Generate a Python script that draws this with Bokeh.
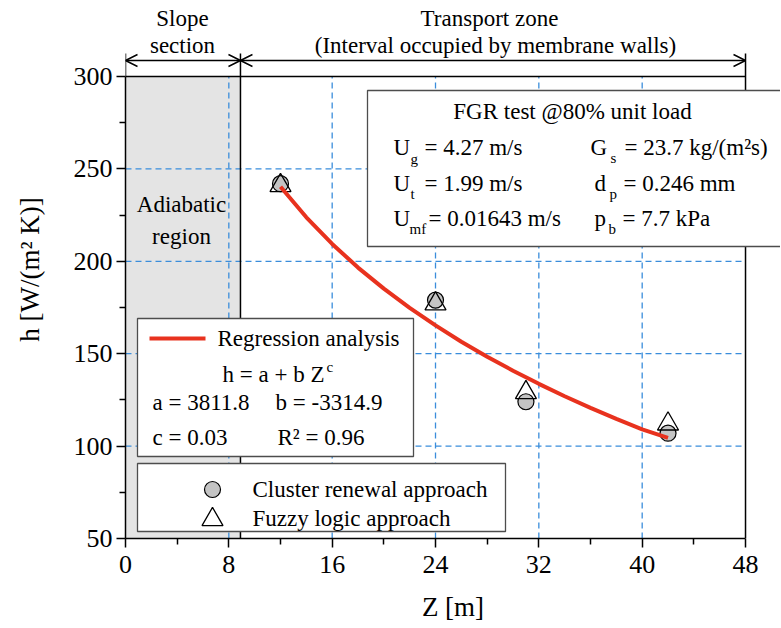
from bokeh.plotting import figure
from bokeh.models import Range1d, FixedTicker, Arrow, OpenHead
from bokeh.core.properties import value
from bokeh.embed import file_html
from bokeh.resources import INLINE

# ---------------- data ----------------
z_points = [12, 24, 31, 42]
h_cluster = [242, 179, 124, 107]
h_fuzzy = [241, 177, 129, 112]

z_fit = [12, 14, 16, 18, 20, 22, 24, 26, 28, 30, 32, 34, 36, 38, 40, 42]
h_fit = [240.3, 223.8, 209.4, 196.6, 185.2, 174.8, 165.3, 156.5, 148.4,
         140.8, 133.7, 127.0, 120.7, 114.7, 109.0, 104.5]

x_ticks = [0, 8, 16, 24, 32, 40, 48]
x_minor = [4, 12, 20, 28, 36, 44]
y_ticks = [50, 100, 150, 200, 250, 300]
y_minor = [75, 125, 175, 225, 275]

slope_end = 8.9
x_min, x_max = 0, 48
y_min, y_max = 50, 300

# ---------------- layout helpers (canvas pixels -> data) ----------------
FONT = "Liberation Serif"
PX_X0, PX_PER_X = 125.0, 12.917
PX_Y300, PX_PER_Y = 76.0, 1.848
PX_BOTTOM = 538
W, H = 780, 626


def X(px):
    return (px - PX_X0) / PX_PER_X


def Y(py):
    return 300 - (py - PX_Y300) / PX_PER_Y


x_end = X(W)
y_end = Y(0)

p = figure(width=W, height=H, x_range=Range1d(0, x_end), y_range=Range1d(50, y_end),
           output_backend="svg", toolbar_location=None,
           min_border_left=int(PX_X0), min_border_right=0, min_border_top=0,
           min_border_bottom=H - PX_BOTTOM)
p.outline_line_color = None
p.grid.visible = False
p.background_fill_color = "white"
p.border_fill_color = "white"

for ax, ticks, minor, bnds in ((p.xaxis[0], x_ticks, x_minor, (x_min, x_max)),
                               (p.yaxis[0], y_ticks, y_minor, (y_min, y_max))):
    ax.ticker = FixedTicker(ticks=ticks, minor_ticks=minor)
    ax.bounds = bnds
    ax.axis_label_text_font = FONT
    ax.axis_label_text_font_style = "normal"
    ax.axis_label_text_font_size = "27px"
    ax.axis_label_text_color = "black"
    ax.major_label_text_font = FONT
    ax.major_label_text_font_size = "26px"
    ax.major_label_text_color = "black"
    ax.axis_line_width = 1.5
    ax.axis_line_color = "black"
    ax.major_tick_line_width = 1.5
    ax.minor_tick_line_width = 1.5
    ax.major_tick_line_color = "black"
    ax.minor_tick_line_color = "black"
    ax.major_tick_out = 9
    ax.major_tick_in = 0
    ax.minor_tick_out = 6
    ax.minor_tick_in = 0

p.xaxis.axis_label = "Z [m]"
p.yaxis.axis_label = "h [W/(m² K)]"
p.xaxis.major_label_standoff = 8
p.xaxis.axis_label_standoff = 16
p.yaxis.major_label_standoff = 4
p.yaxis.axis_label_standoff = 26

# grey adiabatic region
p.quad(left=[x_min], right=[slope_end], bottom=[y_min], top=[y_max],
       fill_color="#e4e4e4", line_color=None)

# dashed grid
gx = x_ticks[1:-1]
gy = y_ticks[1:-1]
GRID = "#3a8ddb"
p.segment(x0=gx, y0=[y_min] * len(gx), x1=gx, y1=[y_max] * len(gx),
          line_color=GRID, line_dash="6 4", line_width=1.3)
p.segment(x0=[x_min] * len(gy), y0=gy, x1=[x_max] * len(gy), y1=gy,
          line_color=GRID, line_dash="6 4", line_width=1.3)

# frame lines and zone markers
top_tick = Y(53)
p.segment(x0=[x_min], y0=[y_max], x1=[x_max], y1=[y_max], line_color="black", line_width=1.5)
p.segment(x0=[x_max, slope_end, x_min], y0=[y_min, y_min, y_max],
          x1=[x_max, slope_end, x_min], y1=[top_tick] * 3, line_color="black", line_width=1.5)

arrow_y = Y(60)
for a, b in ((x_min, slope_end), (slope_end, x_max)):
    p.add_layout(Arrow(x_start=a, y_start=arrow_y, x_end=b, y_end=arrow_y,
                       start=OpenHead(size=12, line_width=1.4, line_color="black"),
                       end=OpenHead(size=12, line_width=1.4, line_color="black"),
                       line_width=1.4, line_color="black"))

# boxes (legends and info)
BOX = "#4d4d4d"
p.quad(left=[X(137)], right=[X(413)], bottom=[Y(456)], top=[Y(318)],
       fill_color="white", line_color=BOX, line_width=1.3)
p.quad(left=[X(137)], right=[X(505)], bottom=[Y(531)], top=[Y(463)],
       fill_color="white", line_color=BOX, line_width=1.3)
p.quad(left=[X(367)], right=[X(830)], bottom=[Y(246)], top=[Y(90)],
       fill_color="white", line_color=BOX, line_width=1.3)

# data markers
p.scatter(z_points, h_cluster, marker="circle", size=16, fill_color="#c4c4c4",
          line_color="black", line_width=1.2)
p.scatter(z_points, h_fuzzy, marker="triangle", size=21, fill_alpha=0,
          line_color="black", line_width=1.3)

# regression curve
RED = "#e8321e"
p.line(z_fit, h_fit, line_color=RED, line_width=4)

# legend samples
p.line([X(149), X(205)], [Y(338), Y(338)], line_color=RED, line_width=4)
p.scatter([X(212)], [Y(489)], marker="circle", size=16, fill_color="#c4c4c4",
          line_color="black", line_width=1.2)
p.scatter([X(212)], [Y(519)], marker="triangle", size=21, fill_alpha=0,
          line_color="black", line_width=1.3)


def txt(px, py, s, size=23, align="left"):
    p.text(x=[X(px)], y=[Y(py)], text=[s], text_font=value(FONT),
           text_font_size=value(f"{size}px"), text_align=align,
           text_baseline="middle", text_color="black")


# top annotations
txt(182, 18, "Slope", align="center")
txt(182, 45, "section", align="center")
txt(489, 18, "Transport zone", align="center")
txt(495, 45, "(Interval occupied by membrane walls)", align="center")

# adiabatic region
txt(181, 204, "Adiabatic", align="center")
txt(181, 236, "region", align="center")

# info box
txt(572, 111, "FGR test @80% unit load", align="center")
txt(393, 147, "U")
txt(410, 158, "g", size=15)
txt(424, 147, "= 4.27 m/s")
txt(393, 183, "U")
txt(410, 193, "t", size=15)
txt(424, 183, "= 1.99 m/s")
txt(393, 218, "U")
txt(409, 228, "mf", size=15)
txt(428, 218, "= 0.01643 m/s")
txt(590, 147, "G")
txt(610, 157, "s", size=15)
txt(624, 147, "= 23.7 kg/(m²s)")
txt(594, 183, "d")
txt(609, 193, "p", size=15)
txt(623, 183, "= 0.246 mm")
txt(594, 218, "p")
txt(608, 228, "b", size=15)
txt(622, 218, "= 7.7 kPa")

# regression legend
txt(217, 338, "Regression analysis")
txt(222, 374, "h = a + b Z")
txt(326, 366, "c", size=15)
txt(152, 402, "a = 3811.8")
txt(275, 402, "b = -3314.9")
txt(152, 437, "c = 0.03")
txt(277, 437, "R² = 0.96")

# marker legend
txt(252, 489, "Cluster renewal approach")
txt(252, 518, "Fuzzy logic approach")

open("out.html", "w").write(file_html(p, INLINE))
